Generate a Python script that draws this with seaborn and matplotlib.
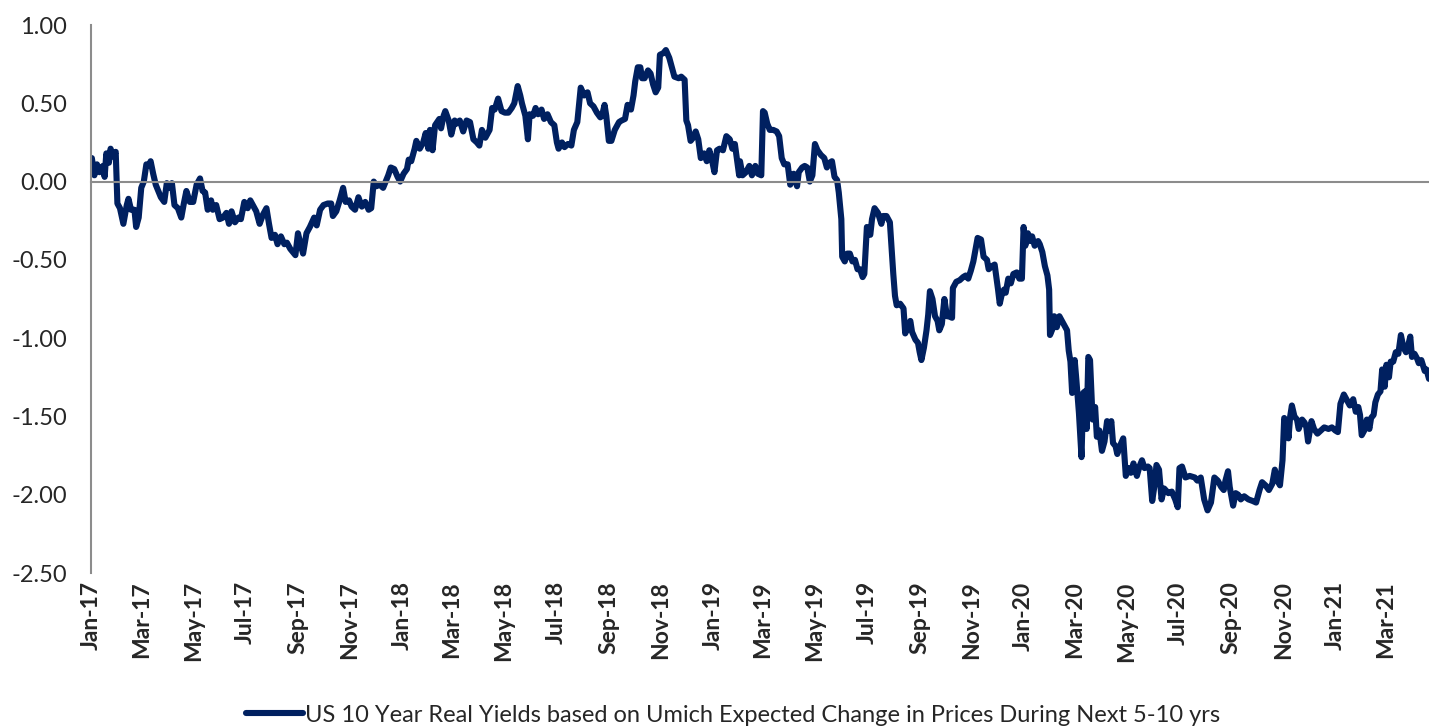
import pandas as pd
import seaborn as sns
import matplotlib.pyplot as plt
import matplotlib.dates as mdates
from matplotlib.lines import Line2D

# US 10y real yield (nominal 10y minus UMich 5-10y expected inflation)
dates_2017 = ["2017-01-02", "2017-01-05", "2017-01-08", "2017-01-11", "2017-01-15", "2017-01-17", "2017-01-19",
              "2017-01-22", "2017-01-24", "2017-01-27", "2017-01-30", "2017-02-01", "2017-02-04", "2017-02-08",
              "2017-02-12", "2017-02-14", "2017-02-17", "2017-02-21", "2017-02-23", "2017-02-26", "2017-03-01",
              "2017-03-04", "2017-03-07", "2017-03-10", "2017-03-12", "2017-03-15", "2017-03-18", "2017-03-21",
              "2017-03-24", "2017-03-28", "2017-03-31", "2017-04-04", "2017-04-06", "2017-04-09", "2017-04-13",
              "2017-04-17", "2017-04-20", "2017-04-23", "2017-04-27", "2017-05-01", "2017-05-05", "2017-05-09",
              "2017-05-12", "2017-05-15", "2017-05-18", "2017-05-22", "2017-05-24", "2017-05-28", "2017-06-01",
              "2017-06-05", "2017-06-09", "2017-06-12", "2017-06-15", "2017-06-19", "2017-06-23", "2017-06-26",
              "2017-06-30", "2017-07-04", "2017-07-07", "2017-07-10", "2017-07-14", "2017-07-18", "2017-07-22",
              "2017-07-26", "2017-07-29", "2017-08-01", "2017-08-05", "2017-08-08", "2017-08-12", "2017-08-16",
              "2017-08-19", "2017-08-23", "2017-08-26", "2017-08-29", "2017-09-01", "2017-09-04", "2017-09-07",
              "2017-09-11", "2017-09-15", "2017-09-20", "2017-09-23", "2017-09-27", "2017-10-01", "2017-10-06",
              "2017-10-10", "2017-10-12", "2017-10-16", "2017-10-20", "2017-10-24", "2017-10-27", "2017-10-31",
              "2017-11-03", "2017-11-07", "2017-11-11", "2017-11-15", "2017-11-19", "2017-11-23", "2017-11-26",
              "2017-11-29", "2017-12-02", "2017-12-06", "2017-12-10", "2017-12-13", "2017-12-16", "2017-12-19",
              "2017-12-23", "2017-12-27", "2017-12-30"]
yields_2017 = [0.15, 0.04, 0.11, 0.06, 0.10, 0.03, 0.18, 0.12, 0.21, 0.16, 0.19, -0.14, -0.17, -0.27,
               -0.15, -0.11, -0.18, -0.18, -0.29, -0.23, -0.04, 0.00, 0.11, 0.10, 0.13, 0.05, -0.02, -0.06,
               -0.10, -0.13, -0.01, -0.04, -0.01, -0.15, -0.17, -0.23, -0.14, -0.06, -0.13, -0.13, -0.02, 0.02,
               -0.06, -0.07, -0.18, -0.12, -0.18, -0.15, -0.24, -0.23, -0.20, -0.27, -0.19, -0.26, -0.23, -0.24,
               -0.13, -0.17, -0.12, -0.15, -0.19, -0.27, -0.21, -0.17, -0.27, -0.36, -0.34, -0.40, -0.35, -0.40,
               -0.39, -0.43, -0.45, -0.47, -0.33, -0.40, -0.46, -0.33, -0.29, -0.23, -0.28, -0.18, -0.15, -0.14,
               -0.14, -0.22, -0.19, -0.12, -0.04, -0.13, -0.12, -0.16, -0.18, -0.10, -0.16, -0.13, -0.18, -0.17,
               0.00, -0.03, -0.02, -0.04, 0.00, 0.04, 0.09, 0.08, 0.03, 0.00]

dates_2018 = ["2018-01-03", "2018-01-07", "2018-01-09", "2018-01-12", "2018-01-16", "2018-01-18", "2018-01-22",
              "2018-01-26", "2018-01-29", "2018-02-01", "2018-02-03", "2018-02-06", "2018-02-09", "2018-02-14",
              "2018-02-16", "2018-02-19", "2018-02-21", "2018-02-25", "2018-02-28", "2018-03-04", "2018-03-06",
              "2018-03-10", "2018-03-14", "2018-03-18", "2018-03-22", "2018-03-26", "2018-03-30", "2018-04-02",
              "2018-04-05", "2018-04-09", "2018-04-12", "2018-04-14", "2018-04-17", "2018-04-20", "2018-04-24",
              "2018-04-28", "2018-05-02", "2018-05-06", "2018-05-10", "2018-05-13", "2018-05-17", "2018-05-20",
              "2018-05-22", "2018-05-26", "2018-05-29", "2018-05-31", "2018-06-04", "2018-06-07", "2018-06-10",
              "2018-06-14", "2018-06-17", "2018-06-21", "2018-06-25", "2018-06-29", "2018-07-02", "2018-07-04",
              "2018-07-08", "2018-07-11", "2018-07-15", "2018-07-19", "2018-07-22", "2018-07-26", "2018-07-30",
              "2018-08-03", "2018-08-07", "2018-08-10", "2018-08-14", "2018-08-18", "2018-08-22", "2018-08-24",
              "2018-08-27", "2018-08-29", "2018-09-01", "2018-09-04", "2018-09-08", "2018-09-13", "2018-09-16",
              "2018-09-20", "2018-09-23", "2018-09-27", "2018-09-30", "2018-10-02", "2018-10-05", "2018-10-08",
              "2018-10-10", "2018-10-13", "2018-10-17", "2018-10-20", "2018-10-23", "2018-10-26", "2018-10-29",
              "2018-10-31", "2018-11-04", "2018-11-07", "2018-11-11", "2018-11-14", "2018-11-17", "2018-11-22",
              "2018-11-25", "2018-11-29", "2018-12-01", "2018-12-03", "2018-12-06", "2018-12-09", "2018-12-12",
              "2018-12-15", "2018-12-18", "2018-12-22", "2018-12-25", "2018-12-28", "2018-12-31"]
yields_2018 = [0.05, 0.08, 0.14, 0.13, 0.21, 0.26, 0.21, 0.25, 0.31, 0.21, 0.33, 0.20, 0.36, 0.40,
               0.34, 0.42, 0.45, 0.39, 0.30, 0.39, 0.37, 0.39, 0.32, 0.39, 0.38, 0.27, 0.25, 0.23,
               0.33, 0.28, 0.31, 0.33, 0.47, 0.46, 0.53, 0.45, 0.44, 0.44, 0.47, 0.50, 0.61, 0.55,
               0.50, 0.42, 0.27, 0.43, 0.42, 0.47, 0.43, 0.46, 0.40, 0.43, 0.38, 0.36, 0.25, 0.21,
               0.25, 0.22, 0.24, 0.23, 0.33, 0.38, 0.60, 0.55, 0.57, 0.50, 0.48, 0.44, 0.41, 0.42,
               0.49, 0.42, 0.26, 0.26, 0.33, 0.38, 0.39, 0.40, 0.49, 0.46, 0.55, 0.64, 0.73, 0.73,
               0.66, 0.66, 0.71, 0.69, 0.62, 0.57, 0.60, 0.81, 0.82, 0.84, 0.79, 0.73, 0.67, 0.66,
               0.67, 0.65, 0.39, 0.36, 0.26, 0.28, 0.32, 0.27, 0.15, 0.18, 0.13, 0.20, 0.14]

dates_2019 = ["2019-01-03", "2019-01-06", "2019-01-09", "2019-01-13", "2019-01-17", "2019-01-21", "2019-01-24",
              "2019-01-27", "2019-02-01", "2019-02-02", "2019-02-05", "2019-02-09", "2019-02-13", "2019-02-16",
              "2019-02-20", "2019-02-23", "2019-02-27", "2019-03-01", "2019-03-03", "2019-03-06", "2019-03-09",
              "2019-03-13", "2019-03-17", "2019-03-20", "2019-03-23", "2019-03-26", "2019-03-30", "2019-04-02",
              "2019-04-06", "2019-04-10", "2019-04-12", "2019-04-16", "2019-04-19", "2019-04-22", "2019-04-25",
              "2019-04-28", "2019-05-01", "2019-05-04", "2019-05-08", "2019-05-12", "2019-05-15", "2019-05-18",
              "2019-05-21", "2019-05-24", "2019-05-27", "2019-05-29", "2019-06-01", "2019-06-02", "2019-06-05",
              "2019-06-08", "2019-06-11", "2019-06-14", "2019-06-17", "2019-06-20", "2019-06-23", "2019-06-26",
              "2019-06-28", "2019-07-01", "2019-07-05", "2019-07-07", "2019-07-10", "2019-07-14", "2019-07-18",
              "2019-07-20", "2019-07-24", "2019-07-28", "2019-08-01", "2019-08-03", "2019-08-05", "2019-08-09",
              "2019-08-13", "2019-08-15", "2019-08-18", "2019-08-21", "2019-08-23", "2019-08-27", "2019-08-30",
              "2019-09-01", "2019-09-03", "2019-09-06", "2019-09-09", "2019-09-11", "2019-09-13", "2019-09-16",
              "2019-09-19", "2019-09-22", "2019-09-24", "2019-09-27", "2019-09-30", "2019-10-03", "2019-10-05",
              "2019-10-09", "2019-10-10", "2019-10-14", "2019-10-18", "2019-10-22", "2019-10-25", "2019-10-28",
              "2019-10-31", "2019-11-03", "2019-11-06", "2019-11-08", "2019-11-12", "2019-11-15", "2019-11-19",
              "2019-11-21", "2019-11-25", "2019-11-28", "2019-12-02", "2019-12-04", "2019-12-06", "2019-12-09",
              "2019-12-11", "2019-12-14", "2019-12-17", "2019-12-20", "2019-12-24", "2019-12-27", "2019-12-30"]
yields_2019 = [0.06, 0.20, 0.21, 0.20, 0.29, 0.27, 0.21, 0.24, 0.04, 0.13, 0.04, 0.06, 0.10, 0.04,
               0.10, 0.05, 0.04, 0.45, 0.44, 0.37, 0.33, 0.33, 0.32, 0.29, 0.15, 0.11, 0.11, -0.02,
               0.05, -0.03, 0.06, 0.09, 0.10, 0.09, 0.00, 0.04, 0.24, 0.20, 0.17, 0.15, 0.09, 0.12,
               0.13, 0.03, 0.01, -0.07, -0.24, -0.48, -0.51, -0.46, -0.46, -0.51, -0.50, -0.56, -0.56, -0.61,
               -0.59, -0.29, -0.34, -0.24, -0.17, -0.20, -0.27, -0.22, -0.22, -0.26, -0.59, -0.73, -0.79, -0.78,
               -0.81, -0.97, -0.93, -0.89, -0.96, -1.01, -1.03, -1.09, -1.14, -1.06, -0.95, -0.85, -0.70, -0.75,
               -0.86, -0.89, -0.95, -0.91, -0.75, -0.86, -0.86, -0.87, -0.68, -0.64, -0.63, -0.61, -0.60, -0.62,
               -0.57, -0.51, -0.42, -0.36, -0.37, -0.48, -0.50, -0.56, -0.54, -0.53, -0.69, -0.78, -0.73, -0.69,
               -0.71, -0.62, -0.65, -0.59, -0.58, -0.62, -0.62]

dates_2020 = ["2020-01-01", "2020-01-03", "2020-01-06", "2020-01-09", "2020-01-11", "2020-01-14", "2020-01-18",
              "2020-01-20", "2020-01-23", "2020-01-26", "2020-01-29", "2020-01-31", "2020-02-01", "2020-02-04",
              "2020-02-06", "2020-02-09", "2020-02-12", "2020-02-15", "2020-02-18", "2020-02-21", "2020-02-23",
              "2020-02-25", "2020-02-27", "2020-03-01", "2020-03-03", "2020-03-06", "2020-03-09", "2020-03-11",
              "2020-03-13", "2020-03-15", "2020-03-17", "2020-03-19", "2020-03-22", "2020-03-25", "2020-03-27",
              "2020-03-30", "2020-04-02", "2020-04-05", "2020-04-08", "2020-04-10", "2020-04-13", "2020-04-15",
              "2020-04-18", "2020-04-20", "2020-04-23", "2020-04-27", "2020-04-30", "2020-05-03", "2020-05-06",
              "2020-05-09", "2020-05-13", "2020-05-16", "2020-05-19", "2020-05-22", "2020-05-26", "2020-05-28",
              "2020-05-31", "2020-06-03", "2020-06-05", "2020-06-08", "2020-06-11", "2020-06-14", "2020-06-19",
              "2020-06-23", "2020-06-27", "2020-06-30", "2020-07-02", "2020-07-05", "2020-07-09", "2020-07-14",
              "2020-07-20", "2020-07-23", "2020-07-27", "2020-07-31", "2020-08-04", "2020-08-08", "2020-08-12",
              "2020-08-16", "2020-08-20", "2020-08-23", "2020-08-25", "2020-08-28", "2020-08-30", "2020-09-03",
              "2020-09-06", "2020-09-09", "2020-09-12", "2020-09-16", "2020-09-21", "2020-09-26", "2020-09-30",
              "2020-10-04", "2020-10-07", "2020-10-11", "2020-10-15", "2020-10-19", "2020-10-22", "2020-10-25",
              "2020-10-28", "2020-10-31", "2020-11-02", "2020-11-05", "2020-11-07", "2020-11-09", "2020-11-11",
              "2020-11-14", "2020-11-17", "2020-11-19", "2020-11-23", "2020-11-26", "2020-11-28", "2020-11-30",
              "2020-12-04", "2020-12-07", "2020-12-11", "2020-12-15", "2020-12-19", "2020-12-24", "2020-12-28"]
yields_2020 = [-0.29, -0.41, -0.33, -0.38, -0.35, -0.41, -0.38, -0.40, -0.45, -0.54, -0.60, -0.69, -0.98, -0.94,
               -0.86, -0.93, -0.86, -0.89, -0.92, -0.95, -1.08, -1.15, -1.35, -1.14, -1.27, -1.48, -1.76, -1.35,
               -1.34, -1.58, -1.12, -1.14, -1.52, -1.44, -1.63, -1.59, -1.72, -1.66, -1.53, -1.59, -1.53, -1.67,
               -1.69, -1.74, -1.69, -1.64, -1.88, -1.83, -1.86, -1.80, -1.88, -1.82, -1.78, -1.83, -1.82, -1.83,
               -2.04, -1.93, -1.81, -1.84, -2.03, -1.96, -1.99, -1.98, -2.03, -2.08, -1.83, -1.82, -1.89, -1.88,
               -1.89, -1.91, -1.89, -2.03, -2.10, -2.05, -1.89, -1.91, -1.95, -1.97, -1.91, -1.85, -1.95, -2.07,
               -1.99, -2.00, -2.03, -2.01, -2.03, -2.04, -2.05, -1.97, -1.92, -1.94, -1.97, -1.93, -1.84, -1.91,
               -1.94, -1.78, -1.51, -1.54, -1.64, -1.50, -1.43, -1.50, -1.52, -1.58, -1.52, -1.54, -1.57, -1.66,
               -1.53, -1.58, -1.61, -1.59, -1.57, -1.58, -1.57]

dates_2021 = ["2021-01-01", "2021-01-04", "2021-01-07", "2021-01-11", "2021-01-14", "2021-01-18", "2021-01-22",
              "2021-01-25", "2021-01-28", "2021-01-30", "2021-02-01", "2021-02-04", "2021-02-07", "2021-02-10",
              "2021-02-12", "2021-02-15", "2021-02-17", "2021-02-20", "2021-02-23", "2021-02-25", "2021-02-28",
              "2021-03-02", "2021-03-05", "2021-03-07", "2021-03-10", "2021-03-13", "2021-03-16", "2021-03-19",
              "2021-03-22", "2021-03-25", "2021-03-27", "2021-03-30", "2021-04-01", "2021-04-04", "2021-04-07",
              "2021-04-09", "2021-04-12", "2021-04-16", "2021-04-18", "2021-04-21"]
yields_2021 = [-1.59, -1.60, -1.42, -1.36, -1.39, -1.43, -1.39, -1.47, -1.44, -1.49, -1.62, -1.59, -1.52, -1.58,
               -1.51, -1.49, -1.41, -1.36, -1.34, -1.20, -1.31, -1.17, -1.25, -1.15, -1.15, -1.09, -1.10, -0.98,
               -1.06, -1.09, -1.06, -0.99, -1.12, -1.10, -1.13, -1.16, -1.14, -1.21, -1.20, -1.26]

series_label = "US 10 Year Real Yields based on Umich Expected Change in Prices During Next 5-10 yrs"
y_ticks = [1.0, 0.5, 0.0, -0.5, -1.0, -1.5, -2.0, -2.5]

df = pd.DataFrame({
    "date": pd.to_datetime(dates_2017 + dates_2018 + dates_2019 + dates_2020 + dates_2021),
    "real_yield": yields_2017 + yields_2018 + yields_2019 + yields_2020 + yields_2021,
})

sns.set_style("white")
plt.rcParams["font.family"] = ["Lato", "DejaVu Sans"]
plt.rcParams["axes.unicode_minus"] = False

navy = "#002060"
grey = "#8c8c8c"

fig = plt.figure(figsize=(14.29, 7.28), dpi=100)
ax = fig.add_axes([91 / 1429, 1 - 573 / 728, 1 - 91 / 1429, (573 - 25) / 728])

sns.lineplot(data=df, x="date", y="real_yield", color=navy, linewidth=4.4, ax=ax, legend=False)

ax.set_xlim(pd.Timestamp("2017-01-01"), df["date"].max())
ax.set_ylim(-2.5, 1.0)
ax.set_yticks(y_ticks)
ax.set_yticklabels([f"{v:.2f}" for v in y_ticks])
ax.set_xlabel("")
ax.set_ylabel("")

for side in ["top", "right"]:
    ax.spines[side].set_visible(False)
ax.spines["left"].set_color(grey)
ax.spines["left"].set_linewidth(1.5)
ax.spines["bottom"].set_position(("data", 0))
ax.spines["bottom"].set_color(grey)
ax.spines["bottom"].set_linewidth(1.5)

month_ticks = mdates.MonthLocator(bymonth=[1, 3, 5, 7, 9, 11])
ax.xaxis.set_major_locator(month_ticks)
ax.tick_params(axis="x", direction="out", length=6, width=1.5, color=grey, labelbottom=False)
ax.tick_params(axis="y", direction="out", length=5, width=1.5, color=grey, pad=12, labelsize=17)

# month labels sit at the bottom of the plot, not on the zero line
sec = ax.secondary_xaxis("bottom")
sec.xaxis.set_major_locator(mdates.MonthLocator(bymonth=[1, 3, 5, 7, 9, 11]))
sec.xaxis.set_major_formatter(mdates.DateFormatter("%b-%y"))
sec.spines["bottom"].set_visible(False)
sec.tick_params(axis="x", length=0, pad=6, labelsize=16.5)
for lbl in sec.get_xticklabels():
    lbl.set_rotation(90)
    lbl.set_fontweight("bold")

handle = Line2D([], [], color=navy, linewidth=4.4)
fig.legend([handle], [series_label], loc="center", bbox_to_anchor=(0.513, 1 - 715 / 728),
           frameon=False, fontsize=17, handlelength=2.4, handletextpad=0.1)

fig.savefig("out.png", dpi=100)
